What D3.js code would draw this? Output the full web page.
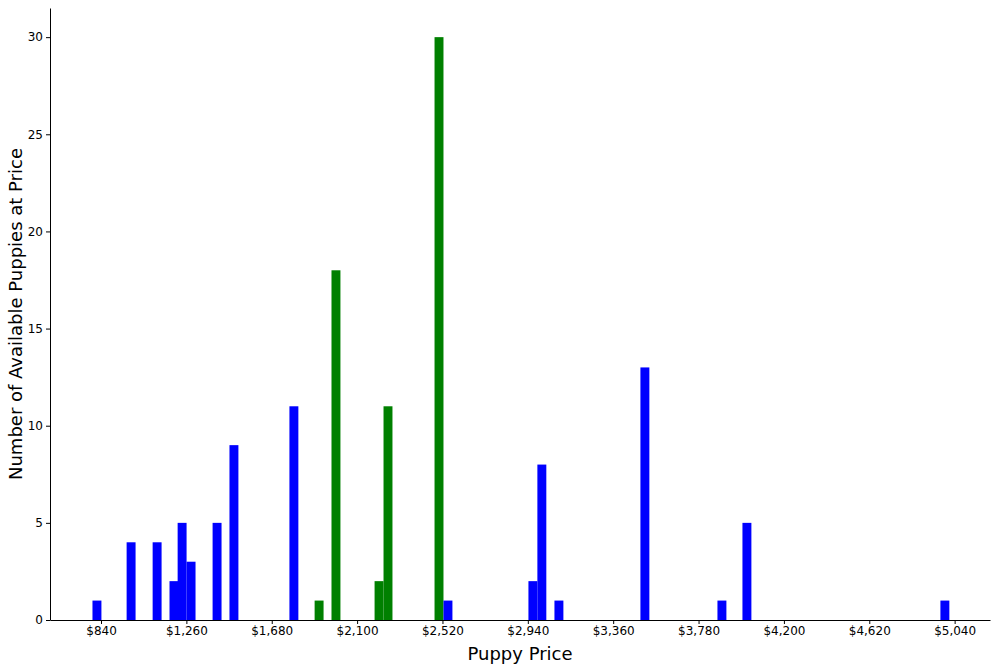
<!DOCTYPE html>
<html><head><meta charset="utf-8">
<script src="https://cdn.jsdelivr.net/npm/d3@7"></script>
<style>body{margin:0;background:#fff;font-family:"DejaVu Sans",sans-serif}</style>
</head><body><div id="chart"></div>
<script>
// bar centre price, number of puppies, group
var prices = [820, 988, 1116, 1199, 1239, 1283, 1411, 1494, 1789, 1913, 1996, 2208, 2252, 2503, 2547, 2965, 3009, 3093, 3516, 3895, 4018, 4992];
var counts = [1, 4, 4, 2, 5, 3, 5, 9, 11, 1, 18, 2, 11, 30, 1, 2, 8, 1, 13, 1, 5, 1];
var groups = ['b','b','b','b','b','b','b','b','b','g','g','g','g','g','b','b','b','b','b','b','b','b'];
var xTicks = [840, 1260, 1680, 2100, 2520, 2940, 3360, 3780, 4200, 4620, 5040];
var yTicks = [0, 5, 10, 15, 20, 25, 30];
var binWidth = 44;

var W = 1000, H = 666, m = {left: 50, right: 10, top: 8, bottom: 46};
var svg = d3.select('#chart').append('svg').attr('width', W).attr('height', H);
var x = d3.scaleLinear().domain([589, 5214]).range([m.left, W - m.right]);
var y = d3.scaleLinear().domain([0, 31.5]).range([H - m.bottom, m.top]);
var colors = {b: '#0000ff', g: '#008000'};

svg.selectAll('rect').data(prices).enter().append('rect')
    .attr('x', function (d) { return x(d - binWidth / 2); })
    .attr('width', function () { return x(binWidth) - x(0); })
    .attr('y', function (d, i) { return y(counts[i]); })
    .attr('height', function (d, i) { return y(0) - y(counts[i]); })
    .attr('fill', function (d, i) { return colors[groups[i]]; });

var xa = svg.append('g').attr('transform', 'translate(0,' + (H - m.bottom) + ')')
    .call(d3.axisBottom(x).tickValues(xTicks).tickSize(4).tickPadding(2).tickSizeOuter(0)
        .tickFormat(function (d) { return '$' + d3.format(',')(d); }));
var ya = svg.append('g').attr('transform', 'translate(' + m.left + ',0)')
    .call(d3.axisLeft(y).tickValues(yTicks).tickSize(4).tickPadding(3).tickSizeOuter(0));
[xa, ya].forEach(function (a) {
    a.selectAll('text').attr('font-size', 12).attr('fill', '#000').attr('font-family', 'DejaVu Sans');
    a.selectAll('line,path').attr('stroke', '#000');
});
svg.append('text').attr('x', (m.left + W - m.right) / 2).attr('y', H - 6).attr('text-anchor', 'middle')
    .attr('font-size', 18).text('Puppy Price');
svg.append('text').attr('transform', 'translate(22,' + ((m.top + H - m.bottom) / 2) + ') rotate(-90)')
    .attr('text-anchor', 'middle').attr('font-size', 18).text('Number of Available Puppies at Price');
</script></body></html>
